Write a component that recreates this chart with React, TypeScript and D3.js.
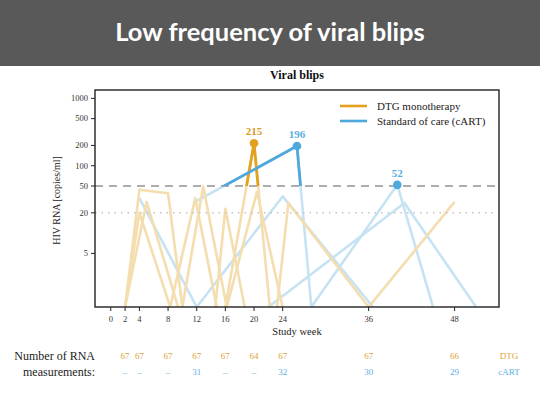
import * as d3 from 'd3';

// below detection limit, drawn on the floor of the axis
const U = 0.8;

type Pt = [number, number];

const dtgPatients: Pt[][] = [
  [[2, U], [4, 44], [8, 39], [10, U]],
  [[2, U], [4, 20], [8.3, U]],
  [[2, U], [5, 29], [9.4, U]],
  [[8.3, U], [11.8, 33], [14.8, U]],
  [[10, U], [12.9, 49], [16.2, U]],
  [[14.6, U], [16, 23], [18.7, U]],
  [[16.2, U], [20.4, 41], [24, U]],
  [[23.2, U], [24.8, 28], [36, U], [48, 29]],
];
const dtgBlip: Pt[] = [[16, U], [20, 215], [22.2, U]];

const cartPatients: Pt[][] = [
  [[4, 33], [12, U], [24, 35], [36.6, U]],
  [[22, U], [41, 28], [51, U]],
];
const cartBlip: Pt[] = [[12, 30], [26, 196], [28, U], [40, 52], [45, U]];

const blipDots = [
  { week: 20, value: 215, group: 'dtg' },
  { week: 26, value: 196, group: 'cart' },
  { week: 40, value: 52, group: 'cart' },
];

const yTicks = [1000, 500, 200, 100, 50, 20, 5];
const xTicks = [0, 2, 4, 8, 12, 16, 20, 24, 36, 48];

const tableWeeks = [2, 4, 8, 12, 16, 20, 24, 36, 48];
const dtgCounts = ['67', '67', '67', '67', '67', '64', '67', '67', '66'];
const cartCounts = ['–', '–', '–', '31', '–', '–', '32', '30', '29'];

const DTG = '#E2A11E';
const DTG_LIGHT = '#F4DDAF';
const CART = '#4EA8DC';
const CART_LIGHT = '#C6E3F3';
const serif = '"Liberation Serif", "DejaVu Serif", serif';

export default function App() {
  const W = 540, H = 405;
  const box = { left: 95, top: 90, right: 499, bottom: 307 };

  const x = d3.scaleLinear().domain([-2.2, 54.2]).range([box.left, box.right]);
  const y = d3.scaleLog().domain([U, 1330]).range([box.bottom, box.top]).clamp(true);

  const line = d3.line<Pt>().x(d => x(d[0])).y(d => y(d[1]));

  return (
    <svg width={W} height={H} style={{ position: 'absolute', left: 0, top: 0, display: 'block' }}>
      <rect x={0} y={0} width={W} height={H} fill="#fff" />
      {/* header band */}
      <rect x={0} y={0} width={W} height={66} fill="#595959" />
      <text x={W / 2} y={41} textAnchor="middle" fill="#fff" fontFamily="Lato, 'Open Sans', sans-serif"
        fontWeight="bold" fontSize={25.5}>Low frequency of viral blips</text>

      <text x={297} y={79} textAnchor="middle" fontFamily={serif} fontWeight="bold" fontSize={12}
        fill="#111">Viral blips</text>

      <defs>
        <clipPath id="plot">
          <rect x={box.left} y={box.top} width={box.right - box.left} height={box.bottom - box.top} />
        </clipPath>
        <clipPath id="above50">
          <rect x={box.left} y={box.top} width={box.right - box.left} height={y(50) - box.top} />
        </clipPath>
      </defs>

      {/* light patient lines */}
      <g clipPath="url(#plot)" fill="none" strokeWidth={2.6} strokeLinejoin="round">
        {cartPatients.concat([cartBlip]).map((p, i) => (
          <path key={'c' + i} d={line(p) ?? ''} stroke={CART_LIGHT} />
        ))}
        {dtgPatients.concat([dtgBlip]).map((p, i) => (
          <path key={'d' + i} d={line(p) ?? ''} stroke={DTG_LIGHT} />
        ))}
      </g>

      {/* reference lines */}
      <line x1={box.left} x2={box.right} y1={y(50)} y2={y(50)} stroke="#ADADAD" strokeWidth={2}
        strokeDasharray="8,6" />
      <line x1={box.left} x2={box.right} y1={y(20)} y2={y(20)} stroke="#C4C4C4" strokeWidth={1.5}
        strokeDasharray="1.5,5" />

      {/* blips above 50 copies */}
      <g clipPath="url(#above50)" fill="none" strokeWidth={2.8} strokeLinejoin="round">
        <path d={line(dtgBlip) ?? ''} stroke={DTG} />
        <path d={line(cartBlip) ?? ''} stroke={CART} />
      </g>
      {blipDots.map(d => (
        <g key={d.value}>
          <circle cx={x(d.week)} cy={y(d.value)} r={4.3} fill={d.group === 'dtg' ? DTG : CART} />
          <text x={x(d.week)} y={y(d.value) - 8} textAnchor="middle" fontFamily={serif} fontWeight="bold"
            fontSize={11} fill={d.group === 'dtg' ? '#D99A25' : '#5AAEDF'}>{d.value}</text>
        </g>
      ))}

      {/* frame */}
      <rect x={box.left} y={box.top} width={box.right - box.left} height={box.bottom - box.top}
        fill="none" stroke="#222" strokeWidth={1.4} />

      {/* y axis */}
      {yTicks.map(t => (
        <g key={t} transform={`translate(0,${y(t)})`}>
          <line x1={box.left - 4} x2={box.left} stroke="#222" strokeWidth={1} />
          <text x={box.left - 7} dy="0.33em" textAnchor="end" fontFamily={serif} fontSize={8.5}
            fill="#333">{t}</text>
        </g>
      ))}
      <text transform={`translate(60,${(box.top + box.bottom) / 2 + 2}) rotate(-90)`} textAnchor="middle"
        fontFamily={serif} fontSize={10} fill="#222">HIV RNA [copies/ml]</text>

      {/* x axis */}
      {xTicks.map(t => (
        <g key={t} transform={`translate(${x(t)},${box.bottom})`}>
          <line y1={0} y2={4} stroke="#222" strokeWidth={1} />
          <text y={15} textAnchor="middle" fontFamily={serif} fontSize={8.5} fill="#333">{t}</text>
        </g>
      ))}
      <text x={297} y={335} textAnchor="middle" fontFamily={serif} fontSize={10.5} fill="#222">Study week</text>

      {/* legend */}
      <line x1={340} x2={367} y1={106} y2={106} stroke={DTG} strokeWidth={2.6} />
      <text x={377} y={109.5} fontFamily={serif} fontSize={11} fill="#222">DTG monotherapy</text>
      <line x1={340} x2={367} y1={121} y2={121} stroke={CART} strokeWidth={2.6} />
      <text x={377} y={124.5} fontFamily={serif} fontSize={11} fill="#222">Standard of care (cART)</text>

      {/* measurement counts */}
      <text x={95} y={360} textAnchor="end" fontFamily={serif} fontSize={12} fill="#222">Number of RNA</text>
      <text x={95} y={375.5} textAnchor="end" fontFamily={serif} fontSize={12} fill="#222">measurements:</text>
      {tableWeeks.map((w, i) => (
        <g key={w} fontFamily={serif} fontSize={9} textAnchor="middle">
          <text x={x(w)} y={359} fill="#DDA33A">{dtgCounts[i]}</text>
          <text x={x(w)} y={375} fill="#5BB0E0">{cartCounts[i]}</text>
        </g>
      ))}
      <text x={509} y={359} textAnchor="middle" fontFamily={serif} fontSize={9} fill="#DDA33A">DTG</text>
      <text x={509} y={375} textAnchor="middle" fontFamily={serif} fontSize={9} fill="#5BB0E0">cART</text>
    </svg>
  );
}
